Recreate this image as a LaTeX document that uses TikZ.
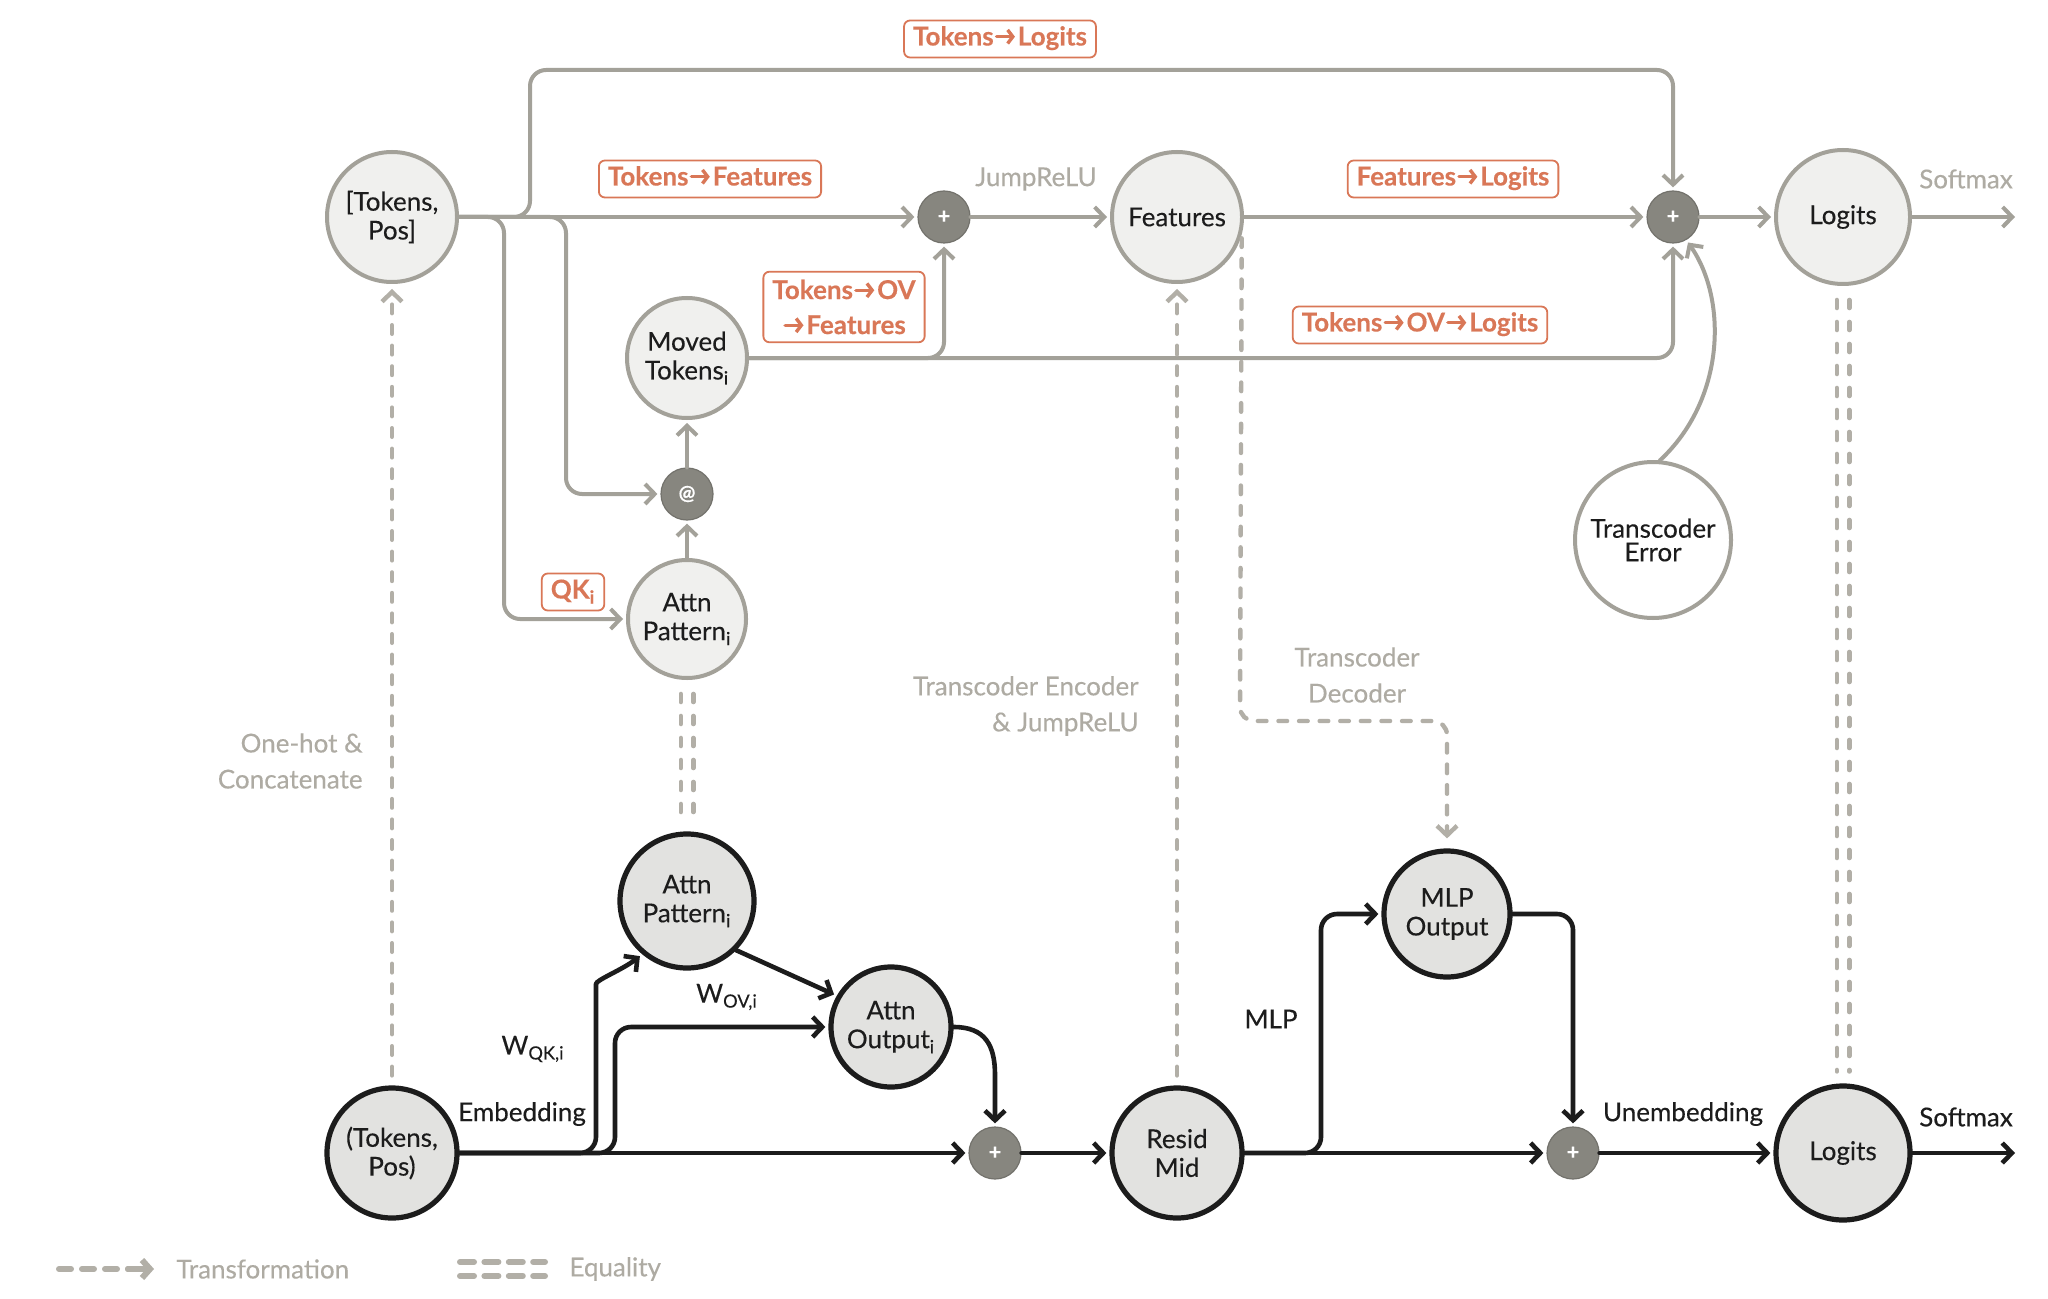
\documentclass[tikz,border=0pt]{standalone}
\usepackage{fontspec}
\setmainfont{Lato}[FakeBold=0.25]
\newfontfamily\boldlato{Lato Bold}
\usetikzlibrary{arrows.meta}
\definecolor{lgray}{HTML}{A3A199}
\definecolor{dgray}{HTML}{B2AFA7}
\definecolor{tgray}{HTML}{AEABA3}
\definecolor{orng}{HTML}{D97757}
\definecolor{nfill}{HTML}{F0F0EE}
\definecolor{bfill}{HTML}{E2E2E0}
\definecolor{pfill}{HTML}{87867F}
\definecolor{ink}{HTML}{1C1C1C}
\newcommand\rar{\kern0.6pt\tikz[x=1pt,y=1pt,baseline=0pt]{\draw[orng, line width=1.7pt, line cap=round, line join=round, -{Straight Barb[length=2.6pt,width=6.8pt]}] (0,4.4) -- (9.2,4.4);}\kern0.6pt}
\begin{document}
\begin{tikzpicture}[x=0.5pt,y=-0.5pt,
  topnode/.style={circle, draw=lgray, line width=2pt, fill=nfill, minimum size=#1, inner sep=0pt, align=center, text=ink, font=\fontsize{13}{14.4}\selectfont},
  botnode/.style={circle, draw=ink, line width=2.6pt, fill=bfill, minimum size=#1, inner sep=0pt, align=center, text=ink, font=\fontsize{13}{14.4}\selectfont},
  plusnode/.style={circle, fill=pfill, draw=pfill!85!black, line width=0.6pt, minimum size=26pt, inner sep=0pt, text=white, font=\fontsize{11}{11}\selectfont\bfseries},
  lbl/.style={draw=orng, line width=0.9pt, rounded corners=3pt, fill=white, text=orng, font=\fontsize{13}{17.5}\selectfont\bfseries, inner xsep=4.5pt, inner ysep=3pt, text height=9.5pt, text depth=3pt},
  lbltwo/.style={draw=orng, line width=0.9pt, rounded corners=3pt, fill=white, text=orng, font=\fontsize{13}{17.5}\selectfont\bfseries, inner xsep=4.5pt, inner ysep=4pt, align=center},
  glbl/.style={text=tgray, font=\fontsize{13}{18}\selectfont, inner sep=0pt},
  blbl/.style={text=ink, font=\fontsize{13}{14}\selectfont, inner sep=0pt},
  garr/.style={draw=lgray, line width=2pt, line cap=round, line join=round, -{Straight Barb[length=4.8pt,width=10pt]}, shorten >=1.5pt},
  barr/.style={draw=ink, line width=2.3pt, line cap=round, line join=round, -{Straight Barb[length=4.8pt,width=10pt]}, shorten >=1.5pt},
  tarr/.style={draw=dgray, line width=2.2pt, line cap=round, dash pattern=on 4.3pt off 6pt, -{Straight Barb[length=4.8pt,width=10pt]}, shorten >=2.5pt, shorten <=5pt},
  eqline/.style={draw=dgray, line width=2.3pt, line cap=round, dash pattern=on 4pt off 7pt, shorten >=6pt, shorten <=7pt},
  legdash/.style={draw=dgray, line width=3pt, line cap=round, dash pattern=on 6pt off 5.5pt},
  legeq/.style={draw=dgray, line width=3pt, line cap=round, dash pattern=on 7pt off 5.2pt},
]
\useasboundingbox (0,0) rectangle (2048,1299);
\fill[white] (0,0) rectangle (2048,1299);

% ---------- top nodes ----------
\node[topnode=65pt] (tp) at (392,217) {[Tokens,\\Pos]};
\node[plusnode] (p1) at (944,217) {+};
\node[topnode=65pt] (feat) at (1177,217) {Features};
\node[plusnode] (p2) at (1673,217) {+};
\node[topnode=67pt] (lt) at (1843,217) {Logits};
\node[topnode=60pt] (mt) at (687,358) {Moved\\Tokens\textsubscript{i}};
\node[plusnode, font=\fontsize{10}{10}\selectfont\bfseries] (at) at (687,494) {@};
\node[topnode=59pt] (apt) at (687,619) {Attn\\Pattern\textsubscript{i}};
\node[topnode=78pt, fill=white, font=\fontsize{13}{11.8}\selectfont] (te) at (1653,540) {Transcoder\\Error};
\coordinate (smtop) at (2018,217);

% ---------- bottom nodes ----------
\node[botnode=65pt] (tpb) at (392,1153) {(Tokens,\\Pos)};
\node[botnode=67pt] (apb) at (687,901) {Attn\\Pattern\textsubscript{i}};
\node[botnode=60pt] (ao) at (891,1027) {Attn\\Output\textsubscript{i}};
\node[plusnode] (pb1) at (995,1153) {+};
\node[botnode=65pt] (rm) at (1177,1153) {Resid\\Mid};
\node[botnode=63pt] (mlp) at (1447,914) {MLP\\Output};
\node[plusnode] (pb2) at (1573,1153) {+};
\node[botnode=67pt] (lb) at (1843,1153) {Logits};
\coordinate (smbot) at (2018,1153);

% ---------- top connectors ----------
\draw[garr] (tp) -- (p1);
\draw[garr, rounded corners=8pt] (tp.east) -- (530,217) -- (530,70) -- (1673,70) -- (p2.north);
\draw[garr, rounded corners=8pt] (tp.east) -- (504,217) -- (504,619) -- (apt.west);
\draw[garr, rounded corners=8pt] (tp.east) -- (566,217) -- (566,494) -- (at.west);
\draw[garr] (apt) -- (at);
\draw[garr] (at) -- (mt);
\draw[garr, rounded corners=8pt] (mt.east) -- (1673,358) -- (p2.south);
\draw[garr, rounded corners=8pt] (mt.east) -| (p1.south);
\draw[garr] (p1) -- (feat);
\draw[garr] (feat) -- (p2);
\draw[garr] (p2) -- (lt);
\draw[garr] (lt) -- (smtop);
\draw[garr] (te.85) .. controls (1725,400) and (1728,300) .. (p2.-60);

% ---------- transformations ----------
\draw[tarr] (tpb) -- (tp);
\draw[tarr] (rm) -- (feat);
\draw[tarr, rounded corners=7pt, shorten <=2pt, shorten >=5pt] (feat.-15) -- (1240,721) -- (1447,721) -- (mlp.north);

% ---------- equalities ----------
\draw[eqline] ([xshift=-3.1pt]apt.south) -- ([xshift=-3.1pt]apb.north);
\draw[eqline] ([xshift=3.1pt]apt.south) -- ([xshift=3.1pt]apb.north);
\draw[eqline] ([xshift=-3.1pt]lt.south) -- ([xshift=-3.1pt]lb.north);
\draw[eqline] ([xshift=3.1pt]lt.south) -- ([xshift=3.1pt]lb.north);

% ---------- bottom connectors ----------
\draw[barr] (tpb) -- (pb1);
\draw[barr, rounded corners=8pt] (tpb.east) -- (596,1153) -- (596,1000) .. controls (596,980) and (622,970) .. (apb.-130);
\draw[barr, rounded corners=8pt] (tpb.east) -- (615,1153) -- (615,1027) -- (ao.west);
\draw[barr] (apb.-45) -- (ao.150);
\draw[barr] (ao.east) .. controls (985,1027) and (995,1045) .. (995,1075) -- (pb1.north);
\draw[barr] (pb1) -- (rm);
\draw[barr] (rm) -- (pb2);
\draw[barr, rounded corners=8pt] (rm.east) -- (1321,1153) -- (1321,914) -- (mlp.west);
\draw[barr, rounded corners=8pt] (mlp.east) -- (1573,914) -- (pb2.north);
\draw[barr] (pb2) -- (lb);
\draw[barr] (lb) -- (smbot);

% ---------- orange labels ----------
\node[lbl] (l1) at (1000,39) {Tokens\rar Logits};
\node[lbl] (l2) at (710,179) {Tokens\rar Features};
\node[lbltwo] (l3) at (844,307) {Tokens\rar OV\\\rar Features};
\node[lbl] (l4) at (1453,179) {Features\rar Logits};
\node[lbl] (l5) at (1420,325) {Tokens\rar OV\rar Logits};
\node[lbl] (l6) at (573,592) {QK\textsubscript{i}};

% ---------- gray labels ----------
\node[glbl] (g1) at (1036,179) {JumpReLU};
\node[glbl] (g2) at (1966,179) {Softmax};
\node[glbl, anchor=east, align=right] (g3) at (363,761) {One-hot \&\\Concatenate};
\node[glbl, anchor=east, align=right] (g4) at (1139,706) {Transcoder Encoder\\\& JumpReLU};
\node[glbl, align=center] (g5) at (1357,675) {Transcoder\\Decoder};

% ---------- black labels ----------
\node[blbl] (k1) at (533,1049) {W\textsubscript{QK,i}};
\node[blbl] (k2) at (727,997) {W\textsubscript{OV,i}};
\node[blbl] (k3) at (522,1114) {Embedding};
\node[blbl] (k4) at (1271,1019) {MLP};
\node[blbl] (k5) at (1683,1114) {Unembedding};
\node[blbl] (k6) at (1966,1117) {Softmax};

% ---------- legend ----------
\coordinate (lga) at (59,1269);
\coordinate (lgb) at (128,1269);
\coordinate (lgc) at (154,1269);
\draw[legdash] (lga) -- (lgb);
\draw[draw=dgray, line width=3pt, line cap=round, -{Straight Barb[length=4pt,width=9pt]}] (lgb) -- (lgc);
\node[glbl, anchor=west] (lt1) at (176,1269) {Transformation};
\coordinate (lea) at (460,1262);
\coordinate (leb) at (545,1262);
\coordinate (lec) at (460,1276);
\coordinate (led) at (545,1276);
\draw[legeq] (lea) -- (leb);
\draw[legeq] (lec) -- (led);
\node[glbl, anchor=west] (lt2) at (569,1269) {Equality};
\end{tikzpicture}
\end{document}
